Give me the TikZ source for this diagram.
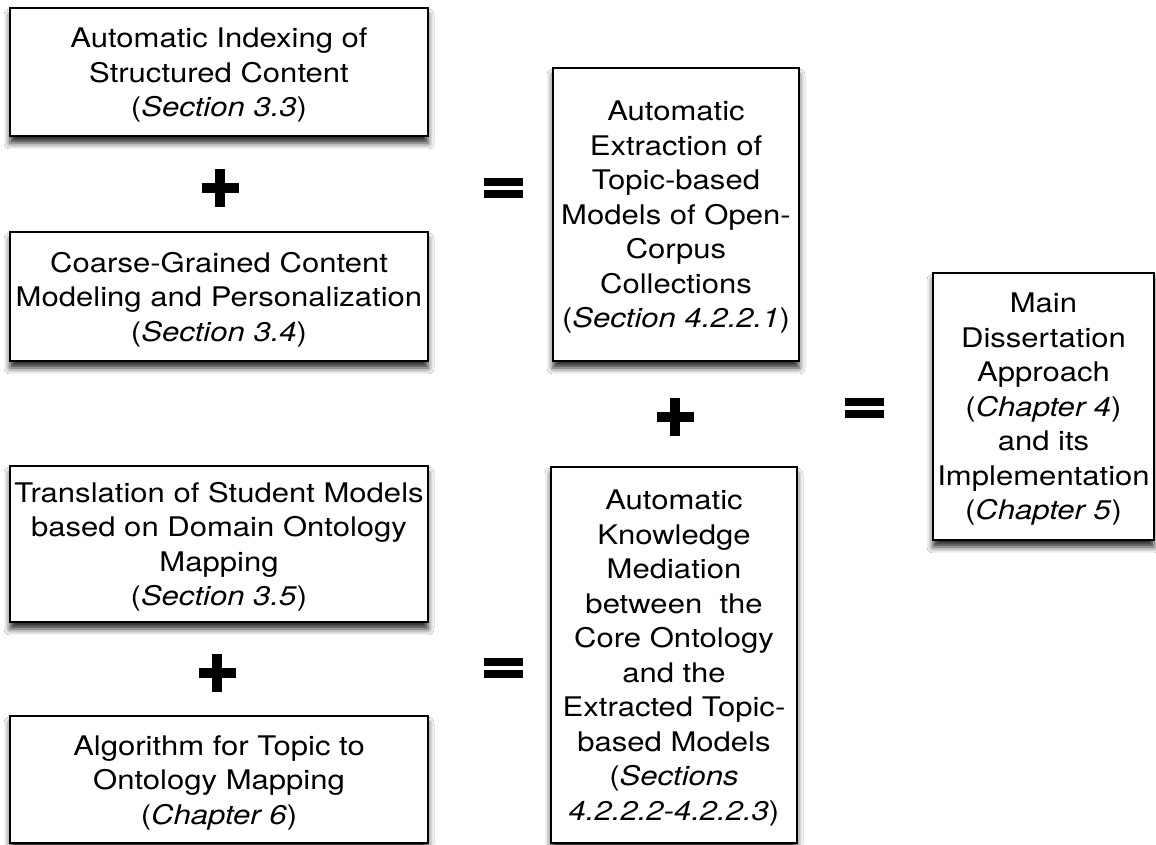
\documentclass[tikz,border=0pt]{standalone}
\usepackage{fontspec}
\setmainfont{TeX Gyre Heros}[FakeStretch=1.15]
\usetikzlibrary{shadows.blur}

\tikzset{
  frame/.style={draw=black, line width=2pt, fill=white, inner sep=0pt,
    blur shadow={shadow xshift=0pt, shadow yshift=-7pt,
      shadow blur radius=6pt, shadow opacity=85}},
  txt/.style={align=center, inner sep=0pt, yshift=-3pt,
    font=\fontsize{27}{34.5}\selectfont},
  sign/.style={fill=black, draw=none},
}

% + and = marks drawn as filled bars
\newcommand{\plusmark}[3]{% name, x, y
  \fill[sign] (#2-18.5,#3-5) rectangle (#2+18.5,#3+5);
  \fill[sign] (#2-5,#3-19) rectangle (#2+5,#3+19);
  \coordinate (#1) at (#2,#3);}
\newcommand{\eqmark}[3]{% name, x, y
  \fill[sign] (#2-19.5,#3+2) rectangle (#2+19.5,#3+10);
  \fill[sign] (#2-19.5,#3-10) rectangle (#2+19.5,#3-2);
  \coordinate (#1) at (#2,#3);}

\begin{document}
\begin{tikzpicture}[x=1pt,y=1pt]
\useasboundingbox[fill=white] (0,0) rectangle (1156,844);

% left column
\node[frame, minimum width=418pt, minimum height=128pt] (idx) at (219,772) {};
\node[txt] (idx-t) at (idx.center)
  {Automatic Indexing of\\Structured Content\\(\textit{Section 3.3})};
\node[frame, minimum width=418pt, minimum height=129pt] (cg) at (219,547.5) {};
\node[txt] (cg-t) at (cg.center)
  {Coarse-Grained Content\\Modeling and Personalization\\(\textit{Section 3.4})};
\node[frame, minimum width=418pt, minimum height=156pt] (tr) at (219,300) {};
\node[txt] (tr-t) at (tr.center)
  {Translation of Student Models\\based on Domain Ontology\\Mapping\\(\textit{Section 3.5})};
\node[frame, minimum width=418pt, minimum height=127pt] (alg) at (219,64.5) {};
\node[txt] (alg-t) at (alg.center)
  {Algorithm for Topic to\\Ontology Mapping\\(\textit{Chapter 6})};

% middle column
\node[frame, minimum width=246pt, minimum height=293pt] (ext) at (676,629.5) {};
\node[txt] (ext-t) at (ext.center)
  {Automatic\\Extraction of\\Topic-based\\Models of Open-\\Corpus\\Collections\\(\textit{Section 4.2.2.1})};
\node[frame, minimum width=246pt, minimum height=376pt] (med) at (674,189) {};
\node[txt] (med-t) at (med.center)
  {Automatic\\Knowledge\\Mediation\\between\ \ the\\Core Ontology\\and the\\Extracted Topic-\\based Models\\(\textit{Sections}\\\textit{4.2.2.2-4.2.2.3})};

% right column
\node[frame, minimum width=221pt, minimum height=267pt] (main) at (1043.5,437.5) {};
\node[txt] (main-t) at (main.center)
  {Main\\Dissertation\\Approach\\(\textit{Chapter 4})\\and its\\Implementation\\(\textit{Chapter 5})};

% operators
\plusmark{p1}{220}{656}
\eqmark{e1}{503}{656}
\plusmark{p2}{217}{171}
\eqmark{e2}{503}{176}
\plusmark{p3}{675}{427}
\eqmark{e3}{864}{436}
\end{tikzpicture}
\end{document}
